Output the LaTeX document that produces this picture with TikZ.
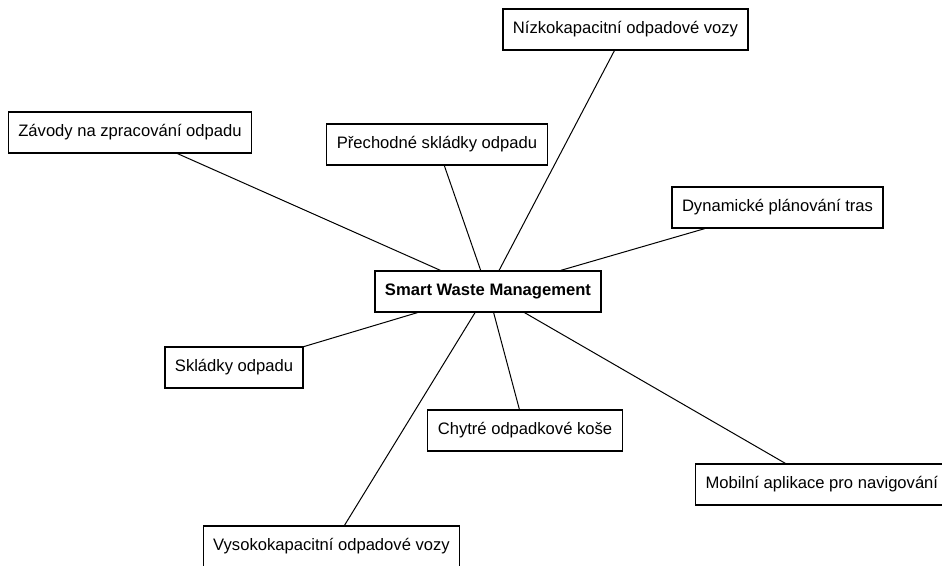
\documentclass[tikz,border=0pt]{standalone}
\usepackage{fontspec}
\setmainfont{Liberation Sans}
\begin{document}
\begin{tikzpicture}[x=1pt,y=-1pt,
  box/.style={draw=black, line width=1.2pt, fill=white, minimum height=41pt,
              inner xsep=10pt, inner ysep=0pt, font=\fontsize{16.6}{20}\selectfont},
  link/.style={draw=black, line width=1pt}]
\useasboundingbox (0,0) rectangle (942,565);

% central topic
\node[box, font=\fontsize{16.6}{20}\selectfont\bfseries] (hub) at (488,291.5) {Smart Waste Management};

% surrounding topics
\node[box] (niz) at (625.5,29.5)  {Nízkokapacitní odpadové vozy};
\node[box] (zav) at (130,132.5)   {Závody na zpracování odpadu};
\node[box] (pre) at (437,144.5)   {Přechodné skládky odpadu};
\node[box] (dyn) at (777.5,207.5) {Dynamické plánování tras};
\node[box] (skl) at (234,367.5)   {Skládky odpadu};
\node[box] (chy) at (525,430.5)   {Chytré odpadkové koše};
\node[box, anchor=west] (mob) at (695,484.5) {Mobilní aplikace pro navigování};
\node[box] (vys) at (331.5,546.5) {Vysokokapacitní odpadové vozy};

% connectors from the hub
\foreach \n in {niz,zav,pre,dyn,skl,chy,mob,vys}
  \draw[link] (hub) -- (\n);
\end{tikzpicture}
\end{document}
